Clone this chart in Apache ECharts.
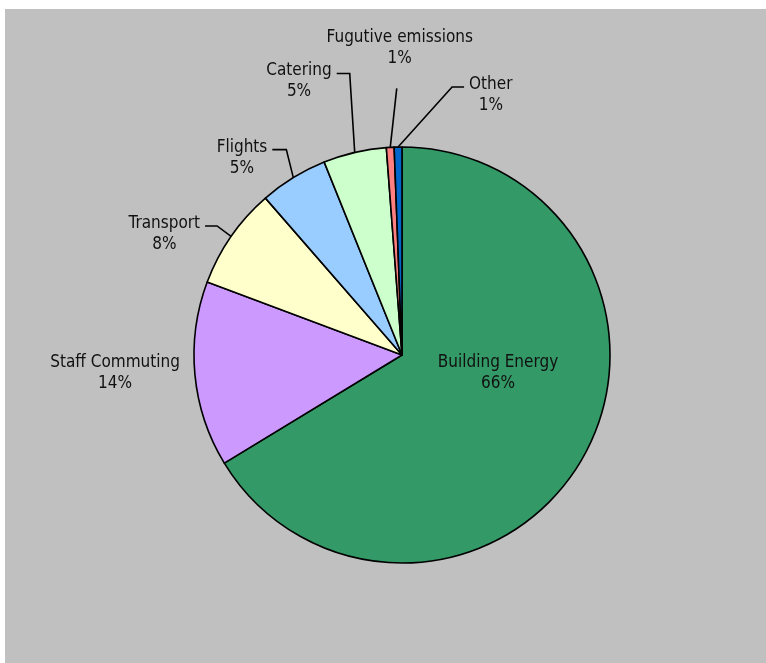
<!DOCTYPE html>
<html>
<head>
<meta charset="utf-8">
<title>Carbon footprint by source</title>
<script src="https://cdn.jsdelivr.net/npm/echarts@6/dist/echarts.min.js"></script>
<style>
  html, body { margin: 0; padding: 0; background: #ffffff; }
  #panel { position: absolute; left: 5px; top: 9px; right: 0; bottom: 0; background: #c0c0c0; }
  #chart { position: absolute; left: 0; top: 0; width: 766px; height: 663px; }
</style>
</head>
<body>
<div id="panel"></div>
<div id="chart"></div>
<script>
// Emission sources and their share of the total footprint (per cent)
const categories = ['Building Energy', 'Staff Commuting', 'Transport', 'Flights', 'Catering', 'Fugutive emissions', 'Other'];
const shares = [66.3, 14.4, 7.9, 5.3, 4.9, 0.6, 0.6];
const sliceColors = ['#339966', '#cc99ff', '#ffffcc', '#99ccff', '#ccffcc', '#ff8080', '#0066cc'];

// Pie geometry
const CX = 402, CY = 355, R = 208;
const FONT = "'DejaVu Sans Condensed', 'Liberation Sans Narrow', sans-serif";
const LH = 21;

// Mid angle of each slice (clockwise from 12 o'clock), used to anchor leader lines
const total = shares.reduce((a, b) => a + b, 0);
const midAngles = [];
let acc = 0;
shares.forEach(v => { midAngles.push((acc + v / 2) / total * 2 * Math.PI); acc += v; });
function anchorOf(i) {
  const a = midAngles[i];
  return [CX + R * Math.sin(a), CY - R * Math.cos(a)];
}

// How each label is placed: bend = offset of the leader elbow from the rim,
// run = horizontal leg length, side = which side of the elbow the text sits on
const placement = [
  { mode: 'at', at: [96, 18] },
  { mode: 'side', side: -1, bend: [0, -1.5], run: 10, block: true },
  { mode: 'side', side: -1, bend: [-14, -10.5], run: 12 },
  { mode: 'side', side: -1, bend: [-7, -28], run: 14 },
  { mode: 'side', side: -1, bend: [-5, -79], run: 13 },
  { mode: 'above', bend: [6.5, -59], lift: 19 },
  { mode: 'side', side: 1, bend: [54, -60], run: 12 }
];

const pieData = categories.map((name, i) => {
  const item = { name: name, value: shares[i], itemStyle: { color: sliceColors[i] } };
  if (i === 0 || i === 1) item.labelLine = { show: false };
  return item;
});

const chart = echarts.init(document.getElementById('chart'), null, { renderer: 'canvas' });
chart.setOption({
  animation: false,
  backgroundColor: 'transparent',
  series: [{
    type: 'pie',
    center: [CX, CY],
    radius: R,
    startAngle: 90,
    clockwise: true,
    avoidLabelOverlap: false,
    silent: true,
    data: pieData,
    itemStyle: { borderColor: '#000000', borderWidth: 1.6 },
    label: {
      show: true,
      position: 'outside',
      color: '#111111',
      fontFamily: FONT,
      fontSize: 17,
      lineHeight: LH,
      align: 'center',
      formatter: p => p.name + '\n' + Math.round(p.percent) + '%'
    },
    labelLine: {
      show: true,
      length: 10,
      length2: 10,
      lineStyle: { color: '#000000', width: 1.6 }
    },
    labelLayout: function (params) {
      const i = params.dataIndex;
      const cfg = placement[i];
      const w = params.labelRect.width;
      if (cfg.mode === 'at') {
        return { x: CX + cfg.at[0], y: CY + cfg.at[1], align: 'center', verticalAlign: 'middle' };
      }
      const p0 = anchorOf(i);
      const p1 = [p0[0] + cfg.bend[0], p0[1] + cfg.bend[1]];
      if (cfg.mode === 'above') {
        return {
          x: p1[0] + 3, y: p1[1] - cfg.lift,
          align: 'center', verticalAlign: 'bottom',
          labelLinePoints: [p0, p1, p1]
        };
      }
      const p2 = [p1[0] + cfg.side * cfg.run, p1[1]];
      const x = p2[0] + cfg.side * (5 + w / 2);
      if (cfg.block) {
        return { x: x, y: p2[1], align: 'center', verticalAlign: 'middle' };
      }
      return {
        x: x, y: p2[1] - 2.5 - LH / 2,
        align: 'center', verticalAlign: 'top',
        labelLinePoints: [p0, p1, p2]
      };
    }
  }]
});
</script>
</body>
</html>
